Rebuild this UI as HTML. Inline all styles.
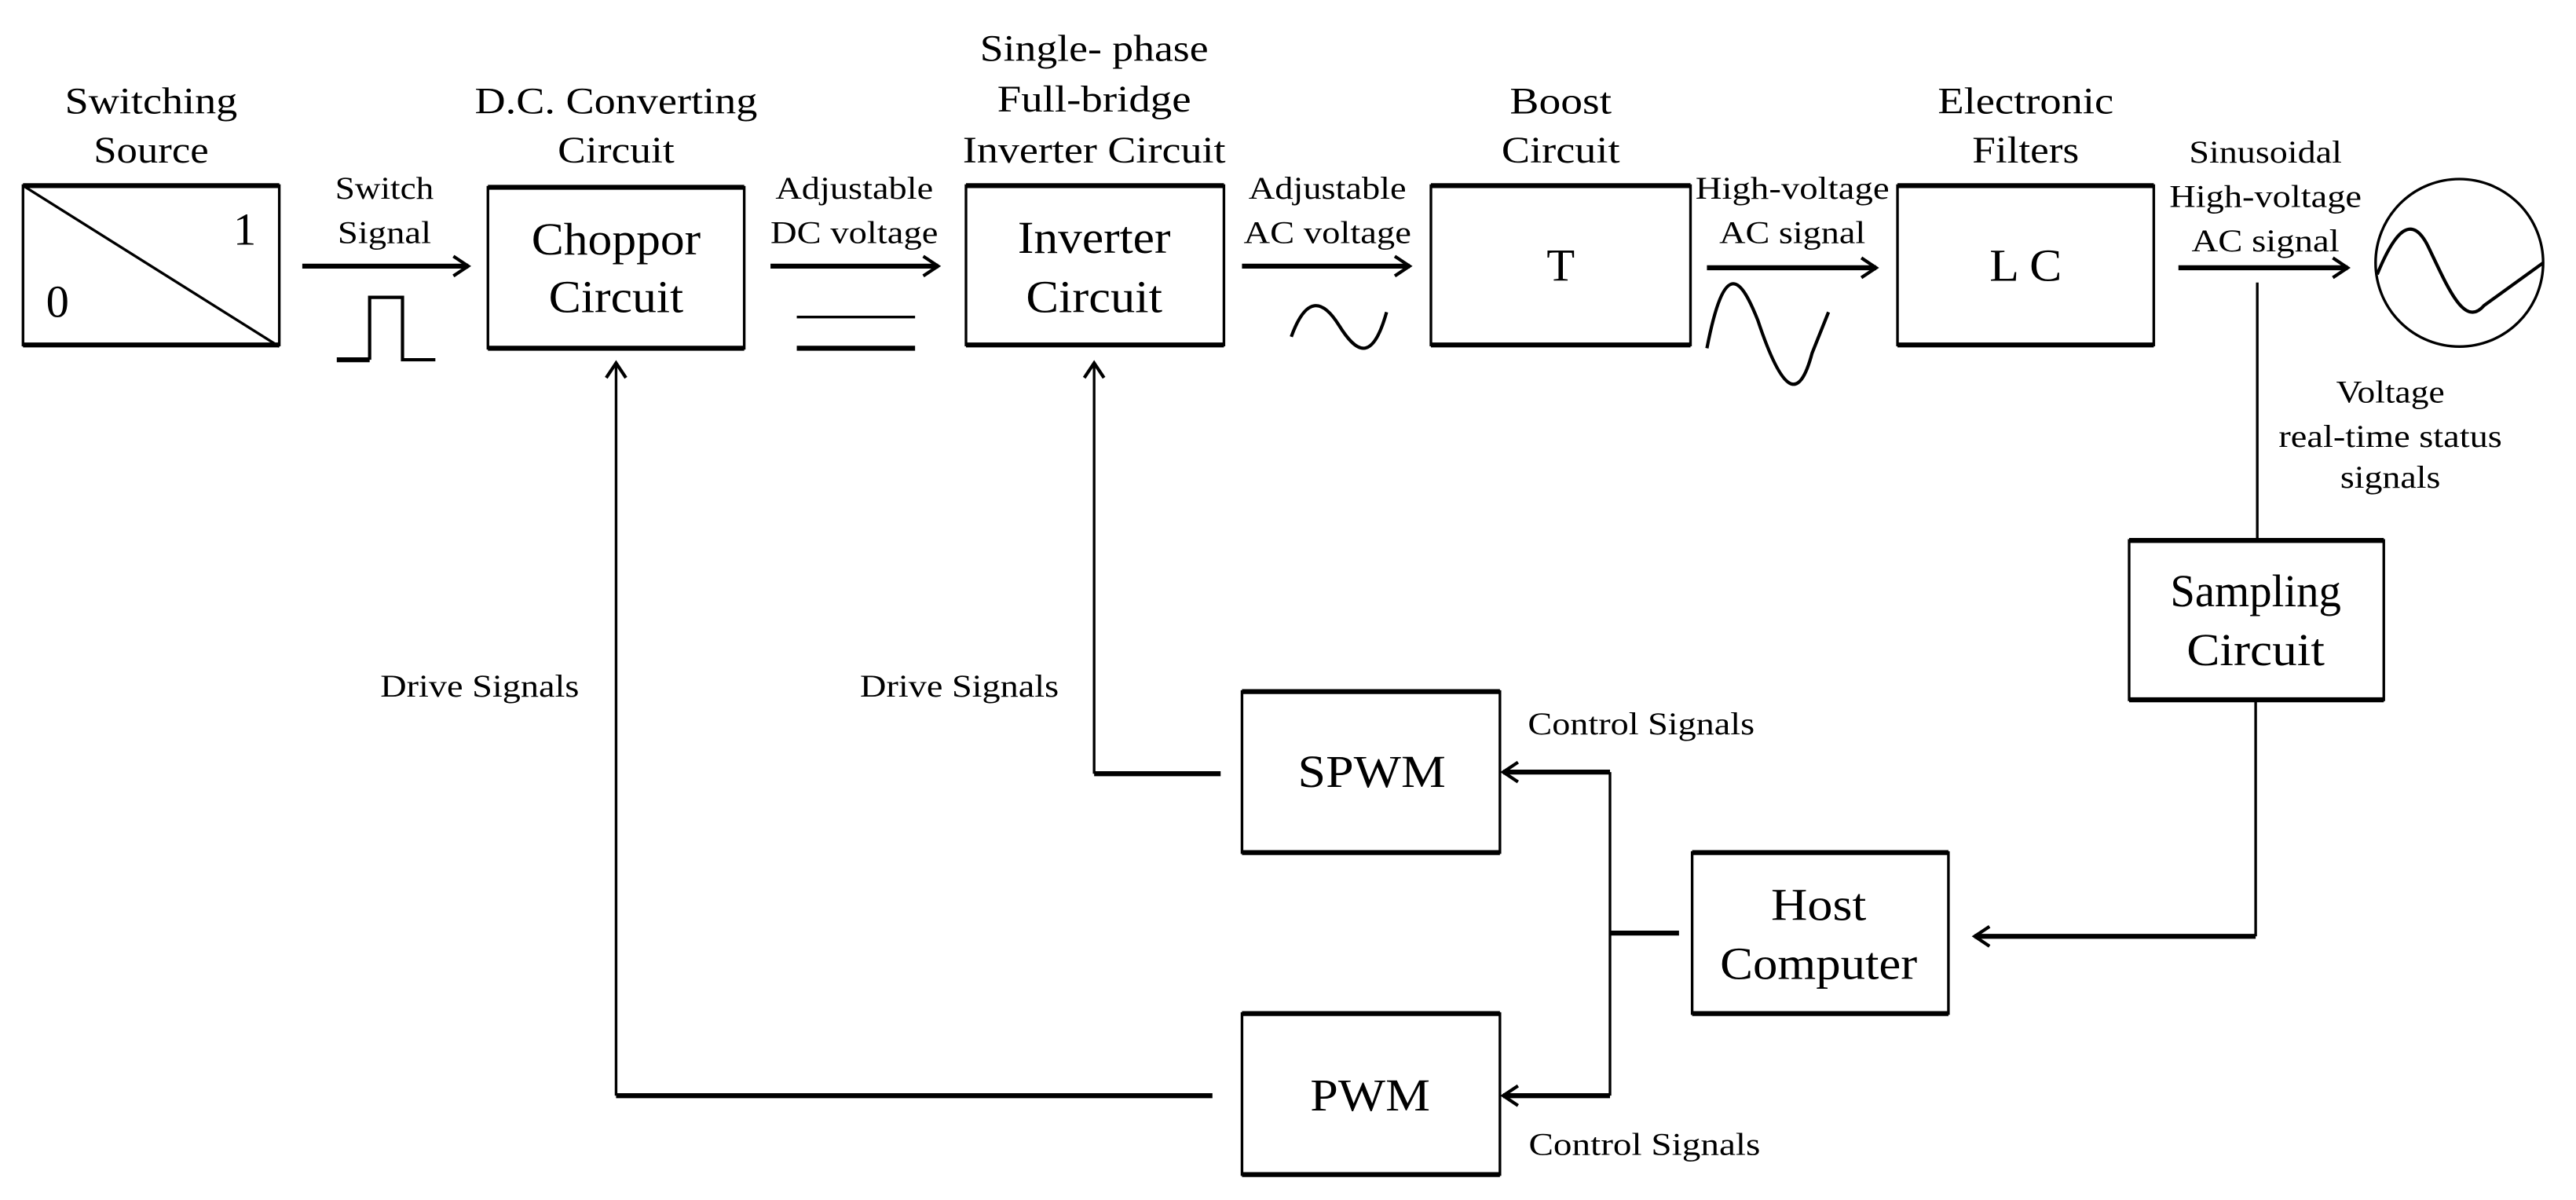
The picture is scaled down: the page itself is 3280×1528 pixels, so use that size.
<!DOCTYPE html>
<html><head><meta charset="utf-8"><style>html,body{margin:0;padding:0;background:#fff}svg{display:block}</style></head>
<body>
<svg width="3280" height="1528" viewBox="0 0 1568 730.5" preserveAspectRatio="none" xmlns="http://www.w3.org/2000/svg" font-family="Liberation Serif, serif" fill="#000">
<defs>
<marker id="a" markerWidth="12" markerHeight="14" refX="10" refY="7" orient="auto" markerUnits="userSpaceOnUse">
<path d="M1,1 L10,7 L1,13" fill="none" stroke="#000" stroke-width="2"/>
</marker>
</defs>
<g fill="none" stroke="#000" stroke-width="1.6">
<rect x="14" y="113" width="156" height="97"/>
<line x1="14" y1="113" x2="170" y2="211"/>
<rect x="297" y="114" width="156" height="98"/>
<rect x="588" y="113" width="157" height="97"/>
<rect x="871" y="113" width="158" height="97"/>
<rect x="1155" y="113" width="156" height="97"/>
<rect x="1296" y="329" width="155" height="97"/>
<rect x="1030" y="519" width="156" height="98"/>
<rect x="756" y="421" width="157" height="98"/>
<rect x="756" y="617" width="157" height="98"/>
<g stroke-width="3">
<line x1="14" y1="113" x2="170" y2="113"/><line x1="14" y1="210" x2="170" y2="210"/>
<line x1="297" y1="114" x2="453" y2="114"/><line x1="297" y1="212" x2="453" y2="212"/>
<line x1="588" y1="113" x2="745" y2="113"/><line x1="588" y1="210" x2="745" y2="210"/>
<line x1="871" y1="113" x2="1029" y2="113"/><line x1="871" y1="210" x2="1029" y2="210"/>
<line x1="1155" y1="113" x2="1311" y2="113"/><line x1="1155" y1="210" x2="1311" y2="210"/>
<line x1="1296" y1="329" x2="1451" y2="329"/><line x1="1296" y1="426" x2="1451" y2="426"/>
<line x1="1030" y1="519" x2="1186" y2="519"/><line x1="1030" y1="617" x2="1186" y2="617"/>
<line x1="756" y1="421" x2="913" y2="421"/><line x1="756" y1="519" x2="913" y2="519"/>
<line x1="756" y1="617" x2="913" y2="617"/><line x1="756" y1="715" x2="913" y2="715"/>
<line x1="184" y1="162" x2="285" y2="162" marker-end="url(#a)"/>
<line x1="469" y1="162" x2="571" y2="162" marker-end="url(#a)"/>
<line x1="756" y1="162" x2="858" y2="162" marker-end="url(#a)"/>
<line x1="1039" y1="163" x2="1142" y2="163" marker-end="url(#a)"/>
<line x1="1326" y1="163" x2="1429" y2="163" marker-end="url(#a)"/>
<line x1="1373" y1="570" x2="1202" y2="570" marker-end="url(#a)"/>
<line x1="980" y1="470" x2="915" y2="470" marker-end="url(#a)"/>
<line x1="980" y1="667" x2="915" y2="667" marker-end="url(#a)"/>
<line x1="980" y1="568" x2="1022" y2="568"/>
<line x1="743" y1="471" x2="666" y2="471"/>
<line x1="738" y1="667" x2="375" y2="667"/>
</g>
<line x1="205" y1="219" x2="225" y2="219" stroke-width="3"/>
<polyline points="225,219 225,181 245,181 245,219 265,219" stroke-width="2"/>
<line x1="485" y1="193" x2="557" y2="193"/>
<line x1="485" y1="212" x2="557" y2="212" stroke-width="3"/>
<path d="M786,205 C795,180 805,182 815,198 S835,222 844,190" stroke-width="2"/>
<path d="M1039,212 C1048,160 1060,165 1070,195 S1092,258 1108,200 L1129,200" stroke="none"/>
<path d="M1039,212 C1050,155 1060,170 1070,195 C1085,240 1095,245 1103,215 L1113,190" stroke-width="2"/>
<ellipse cx="1497" cy="160" rx="51" ry="51"/>
<path d="M1447,167 C1458,140 1468,130 1478,150 C1490,175 1500,200 1512,186 L1548,160" stroke-width="2"/>
<line x1="1374" y1="172" x2="1374" y2="329"/>
<line x1="1373" y1="426" x2="1373" y2="570"/>
<line x1="980" y1="470" x2="980" y2="667"/>
<line x1="666" y1="471" x2="666" y2="221" marker-end="url(#a)"/>
<line x1="375" y1="667" x2="375" y2="221" marker-end="url(#a)"/>
</g>
<g text-anchor="middle" font-size="23" lengthAdjust="spacingAndGlyphs">
<text x="92" y="69" textLength="105" lengthAdjust="spacingAndGlyphs">Switching</text><text x="92" y="99" textLength="70" lengthAdjust="spacingAndGlyphs">Source</text>
<text x="375" y="69" textLength="172" lengthAdjust="spacingAndGlyphs">D.C. Converting</text><text x="375" y="99" textLength="71" lengthAdjust="spacingAndGlyphs">Circuit</text>
<text x="666" y="37" textLength="139" lengthAdjust="spacingAndGlyphs">Single- phase</text><text x="666" y="68" textLength="118" lengthAdjust="spacingAndGlyphs">Full-bridge</text><text x="666" y="99" textLength="160" lengthAdjust="spacingAndGlyphs">Inverter Circuit</text>
<text x="950" y="69" textLength="62" lengthAdjust="spacingAndGlyphs">Boost</text><text x="950" y="99" textLength="72" lengthAdjust="spacingAndGlyphs">Circuit</text>
<text x="1233" y="69" textLength="107" lengthAdjust="spacingAndGlyphs">Electronic</text><text x="1233" y="99" textLength="65" lengthAdjust="spacingAndGlyphs">Filters</text>
</g>
<g text-anchor="middle" font-size="28">
<text x="35" y="193">0</text><text x="149" y="149">1</text>
<text x="375" y="155" textLength="103" lengthAdjust="spacingAndGlyphs">Choppor</text><text x="375" y="190" textLength="82" lengthAdjust="spacingAndGlyphs">Circuit</text>
<text x="666" y="154" textLength="93" lengthAdjust="spacingAndGlyphs">Inverter</text><text x="666" y="190" textLength="83" lengthAdjust="spacingAndGlyphs">Circuit</text>
<text x="950" y="171">T</text>
<text x="1233" y="171" textLength="44" lengthAdjust="spacingAndGlyphs">L C</text>
<text x="1373" y="369" textLength="104" lengthAdjust="spacingAndGlyphs">Sampling</text><text x="1373" y="405" textLength="84" lengthAdjust="spacingAndGlyphs">Circuit</text>
<text x="1107" y="560" textLength="58" lengthAdjust="spacingAndGlyphs">Host</text><text x="1107" y="596" textLength="120" lengthAdjust="spacingAndGlyphs">Computer</text>
<text x="835" y="479" textLength="90" lengthAdjust="spacingAndGlyphs">SPWM</text><text x="834" y="676" textLength="73" lengthAdjust="spacingAndGlyphs">PWM</text>
</g>
<g text-anchor="middle" font-size="19">
<text x="234" y="121" textLength="60" lengthAdjust="spacingAndGlyphs">Switch</text><text x="234" y="148" textLength="57" lengthAdjust="spacingAndGlyphs">Signal</text>
<text x="520" y="121" textLength="96" lengthAdjust="spacingAndGlyphs">Adjustable</text><text x="520" y="148" textLength="102" lengthAdjust="spacingAndGlyphs">DC voltage</text>
<text x="808" y="121" textLength="96" lengthAdjust="spacingAndGlyphs">Adjustable</text><text x="808" y="148" textLength="102" lengthAdjust="spacingAndGlyphs">AC voltage</text>
<text x="1091" y="121" textLength="118" lengthAdjust="spacingAndGlyphs">High-voltage</text><text x="1091" y="148" textLength="89" lengthAdjust="spacingAndGlyphs">AC signal</text>
<text x="1379" y="99" textLength="93" lengthAdjust="spacingAndGlyphs">Sinusoidal</text><text x="1379" y="126" textLength="117" lengthAdjust="spacingAndGlyphs">High-voltage</text><text x="1379" y="153" textLength="90" lengthAdjust="spacingAndGlyphs">AC signal</text>
<text x="1455" y="245" textLength="66" lengthAdjust="spacingAndGlyphs">Voltage</text><text x="1455" y="272" textLength="136" lengthAdjust="spacingAndGlyphs">real-time status</text><text x="1455" y="297" textLength="61" lengthAdjust="spacingAndGlyphs">signals</text>
<text x="292" y="424" textLength="121" lengthAdjust="spacingAndGlyphs">Drive Signals</text><text x="584" y="424" textLength="121" lengthAdjust="spacingAndGlyphs">Drive Signals</text>
<text x="999" y="447" textLength="138" lengthAdjust="spacingAndGlyphs">Control Signals</text><text x="1001" y="703" textLength="141" lengthAdjust="spacingAndGlyphs">Control Signals</text>
</g>
</svg>
</body></html>
